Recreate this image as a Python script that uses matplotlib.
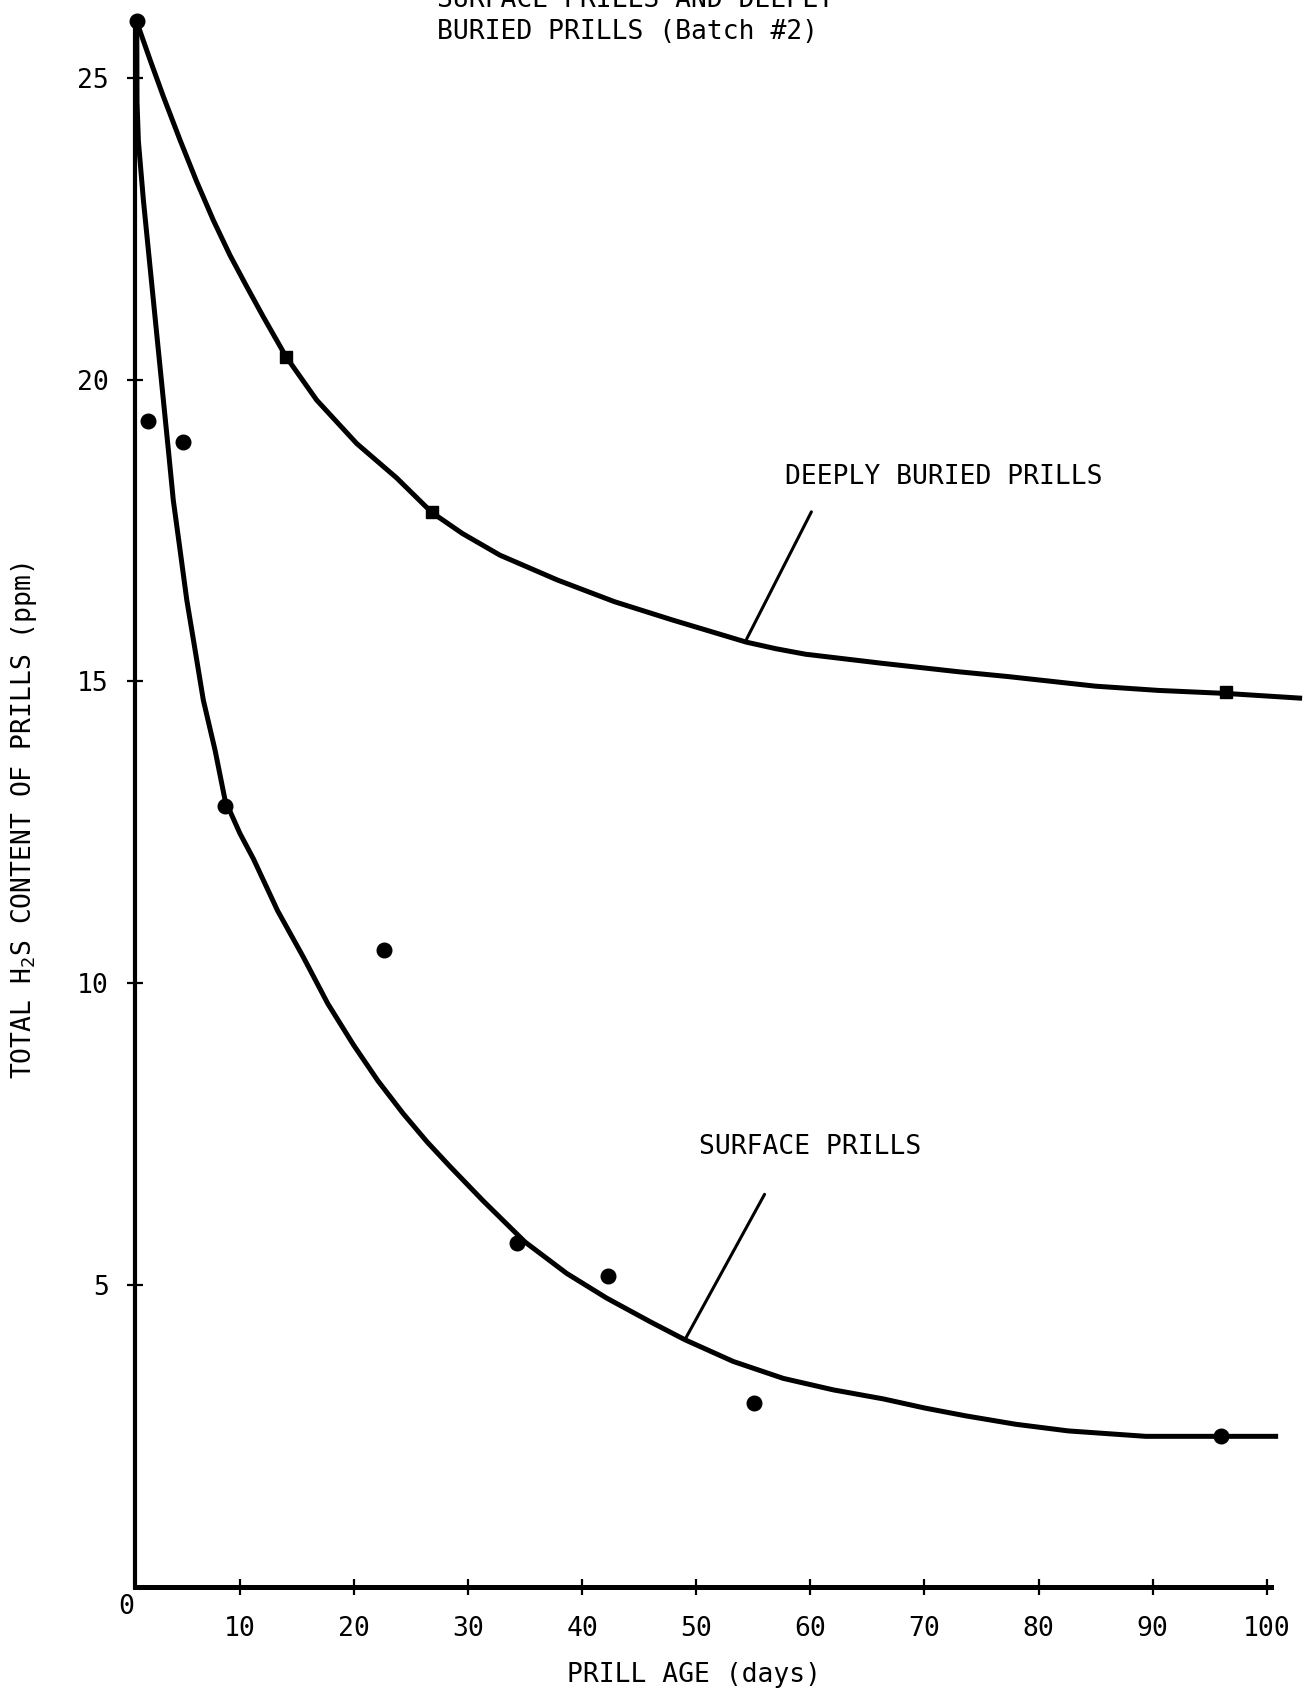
"""
H2S content of prills vs. prill age - surface vs deeply buried prills (Batch #2)
"""
import matplotlib
matplotlib.use("Agg")
import matplotlib.pyplot as plt

# Measured points (days, ppm)
surface_days = [0.96, 1.97, 5.04, 8.7, 22.6, 34.26, 42.3, 55.1, 96.0]
surface_ppm = [25.94, 19.31, 18.96, 12.93, 10.55, 5.69, 5.14, 3.05, 2.49]

buried_days = [14.0, 26.8, 96.4]
buried_ppm = [20.38, 17.81, 14.83]

# Hand-drawn fit curves
surface_curve_days = [0.96, 0.98, 1.1, 1.54, 2.12, 2.7, 3.29, 3.73, 4.16, 4.75,
                      5.34, 6.07, 6.79, 7.82, 8.7, 10.0, 11.18, 13.3, 15.56, 17.7,
                      19.94, 22.1, 24.3, 26.4, 28.42, 31.33, 34.99, 38.64, 42.15,
                      45.95, 49.01, 53.25, 57.63, 62.01, 66.4, 70.0, 73.6, 78.0,
                      82.6, 89.4, 96.0, 101.0]
surface_curve_ppm = [25.94, 24.6, 23.95, 22.97, 21.87, 20.77, 19.66, 18.83, 18.0, 17.18,
                     16.35, 15.52, 14.69, 13.86, 13.03, 12.48, 12.06, 11.2, 10.43, 9.66,
                     8.98, 8.38, 7.84, 7.37, 6.96, 6.39, 5.71, 5.19, 4.78,
                     4.39, 4.09, 3.73, 3.45, 3.26, 3.11, 2.96, 2.83, 2.69,
                     2.58, 2.49, 2.49, 2.49]

buried_curve_days = [0.96, 1.10, 2.12, 3.29, 4.75, 6.21, 7.67, 9.13, 10.6, 12.05,
                     14.04, 16.73, 20.24, 23.74, 26.81, 29.5, 32.8, 37.82, 42.83, 47.86,
                     54.38, 57.0, 59.56, 66.25, 72.94, 77.29, 85.0, 90.5, 96.4, 103.1]
buried_curve_ppm = [25.94, 25.85, 25.30, 24.69, 23.97, 23.28, 22.64, 22.06, 21.54, 21.04,
                    20.38, 19.66, 18.94, 18.37, 17.80, 17.45, 17.09, 16.68, 16.32, 16.02,
                    15.65, 15.54, 15.45, 15.30, 15.16, 15.08, 14.92, 14.85, 14.80, 14.72]

x_ticks = [10, 20, 30, 40, 50, 60, 70, 80, 90, 100]
y_ticks = [5, 10, 15, 20, 25]

FONT = "DejaVu Sans Mono"
plt.rcParams["font.family"] = FONT
plt.rcParams["mathtext.default"] = "regular"

W, H = 1311, 1695
fig = plt.figure(figsize=(W / 100, H / 100), dpi=100)
ax = fig.add_axes([0, 0, 1, 1])
ax.set_xlim(-11.03, 103.88)
ax.set_ylim(-1.796, 26.29)
ax.patch.set_alpha(0)

# Curves and data points
ax.plot(buried_curve_days, buried_curve_ppm, color="black", lw=3.6,
        solid_joinstyle="round", solid_capstyle="butt")
ax.plot(surface_curve_days, surface_curve_ppm, color="black", lw=3.6,
        solid_joinstyle="round", solid_capstyle="butt")
ax.plot(surface_days, surface_ppm, "o", color="black", ms=10.5)
ax.plot(buried_days, buried_ppm, "s", color="black", ms=9)

# Axes drawn like the original hand-ruled frame
for side in ["top", "right"]:
    ax.spines[side].set_visible(False)
ax.spines["left"].set_position(("data", 0.8))
ax.spines["left"].set_bounds(0, 25.9)
ax.spines["left"].set_linewidth(3)
ax.spines["bottom"].set_position(("data", 0))
ax.spines["bottom"].set_bounds(0.8, 100.4)
ax.spines["bottom"].set_linewidth(3.6)

ax.set_xticks(x_ticks)
ax.set_xticklabels([str(t) for t in x_ticks])
ax.set_yticks(y_ticks)
ax.set_yticklabels([str(t) for t in y_ticks])
ax.tick_params(axis="x", direction="inout", length=12, width=1.6, pad=15, labelsize=19)
ax.tick_params(axis="y", direction="inout", length=11.5, width=1.6, pad=13, labelsize=19)

ax.text(0, -0.34, "0", ha="center", va="center", fontsize=19)

# Curve labels with leader lines
ax.annotate("", xy=(54.3, 15.66), xytext=(60.2, 17.85),
            arrowprops=dict(arrowstyle="-", color="black", lw=2.2))
ax.text(71.7, 18.39, "DEEPLY BURIED PRILLS", ha="center", va="center", fontsize=19)

ax.annotate("", xy=(49.0, 4.09), xytext=(56.1, 6.54),
            arrowprops=dict(arrowstyle="-", color="black", lw=2.2))
ax.text(60.0, 7.29, "SURFACE PRILLS", ha="center", va="center", fontsize=19)

# Title (top line is cut off in the original scan)
fig.text(437 / W, 1 - 0 / H, "SURFACE PRILLS AND DEEPLY", ha="left", va="center", fontsize=19)
fig.text(437 / W, 1 - 32 / H, "BURIED PRILLS (Batch #2)", ha="left", va="center", fontsize=19)

fig.text(694 / W, 1 - 1675 / H, "PRILL AGE (days)", ha="center", va="center", fontsize=19)
fig.text(24 / W, 1 - 821 / H, "TOTAL H$_2$S CONTENT OF PRILLS (ppm)",
         ha="center", va="center", rotation=90, fontsize=19)

fig.savefig("out.png", dpi=100)
